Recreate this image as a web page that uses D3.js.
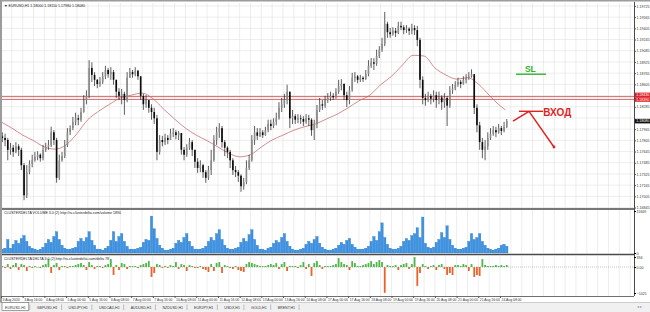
<!DOCTYPE html>
<html><head><meta charset="utf-8">
<script src="https://cdn.jsdelivr.net/npm/d3@7"></script>
<style>body{margin:0;background:#fff}svg{display:block;font-family:"Liberation Sans",Arial,sans-serif}</style>
</head><body><svg id="c" width="650" height="312"></svg>
<script>
// ---------- DATA ----------
const symbolTitle = "EURUSD,H1";
const barStepHours = 2;
const firstOpen = 1.1786;
const closes = [
1.1784,1.1781,1.1767,1.1770,1.1764,1.1772,1.1767,1.1745,1.1702,1.1735,
1.1747,1.1752,1.1757,1.1760,1.1755,1.1767,1.1771,1.1774,1.1792,1.1781,
1.1727,1.1752,1.1758,1.1774,1.1792,1.1798,1.1807,1.1812,1.1810,1.1821,
1.1838,1.1844,1.1884,1.1874,1.1867,1.1861,1.1864,1.1872,1.1881,1.1875,
1.1878,1.1867,1.1850,1.1844,1.1847,1.1838,1.1870,1.1878,1.1875,1.1880,
1.1872,1.1844,1.1832,1.1838,1.1827,1.1821,1.1812,1.1764,1.1781,1.1778,
1.1784,1.1781,1.1790,1.1792,1.1788,1.1791,1.1767,1.1760,1.1770,1.1778,
1.1767,1.1750,1.1741,1.1745,1.1735,1.1727,1.1738,1.1752,1.1781,1.1792,
1.1798,1.1778,1.1770,1.1764,1.1752,1.1738,1.1735,1.1730,1.1715,1.1721,
1.1741,1.1752,1.1781,1.1792,1.1787,1.1792,1.1788,1.1795,1.1804,1.1801,
1.1807,1.1812,1.1827,1.1832,1.1838,1.1850,1.1812,1.1815,1.1810,1.1812,
1.1811,1.1807,1.1812,1.1810,1.1795,1.1804,1.1824,1.1832,1.1830,1.1838,
1.1841,1.1844,1.1842,1.1850,1.1858,1.1861,1.1845,1.1838,1.1852,1.1870,
1.1872,1.1867,1.1870,1.1868,1.1875,1.1887,1.1892,1.1890,1.1901,1.1910,
1.1918,1.1947,1.1935,1.1932,1.1937,1.1934,1.1944,1.1942,1.1938,1.1940,
1.1937,1.1941,1.1938,1.1924,1.1867,1.1841,1.1838,1.1844,1.1840,1.1845,
1.1838,1.1842,1.1835,1.1841,1.1830,1.1852,1.1855,1.1860,1.1864,1.1861,
1.1867,1.1870,1.1872,1.1875,1.1827,1.1802,1.1778,1.1767,1.1772,1.1784,
1.1790,1.1795,1.1792,1.1798,1.1794,1.1800,1.1808];
const highs = [
1.1792,1.1790,1.1784,1.1777,1.1774,1.1778,1.1775,1.1770,1.1748,1.1745,
1.1752,1.1760,1.1764,1.1765,1.1762,1.1774,1.1777,1.1781,1.1800,1.1795,
1.1784,1.1760,1.1764,1.1781,1.1798,1.1802,1.1814,1.1820,1.1817,1.1827,
1.1845,1.1852,1.1895,1.1892,1.1878,1.1868,1.1871,1.1878,1.1887,1.1884,
1.1885,1.1881,1.1861,1.1855,1.1854,1.1850,1.1878,1.1884,1.1881,1.1885,
1.1881,1.1872,1.1847,1.1845,1.1838,1.1832,1.1827,1.1817,1.1788,1.1787,
1.1790,1.1788,1.1797,1.1798,1.1795,1.1794,1.1790,1.1771,1.1775,1.1784,
1.1781,1.1767,1.1755,1.1752,1.1747,1.1738,1.1744,1.1767,1.1788,1.1800,
1.1805,1.1801,1.1781,1.1772,1.1767,1.1755,1.1744,1.1738,1.1732,1.1727,
1.1752,1.1760,1.1788,1.1801,1.1798,1.1798,1.1795,1.1800,1.1810,1.1810,
1.1812,1.1820,1.1835,1.1841,1.1847,1.1860,1.1850,1.1824,1.1818,1.1818,
1.1817,1.1815,1.1818,1.1817,1.1812,1.1810,1.1831,1.1841,1.1838,1.1844,
1.1848,1.1850,1.1848,1.1855,1.1867,1.1868,1.1862,1.1850,1.1858,1.1877,
1.1878,1.1874,1.1874,1.1872,1.1881,1.1895,1.1898,1.1898,1.1910,1.1915,
1.1927,1.1964,1.1950,1.1941,1.1942,1.1941,1.1950,1.1950,1.1945,1.1945,
1.1942,1.1947,1.1945,1.1944,1.1927,1.1872,1.1847,1.1850,1.1847,1.1852,
1.1850,1.1850,1.1845,1.1848,1.1844,1.1858,1.1861,1.1865,1.1870,1.1867,
1.1872,1.1875,1.1878,1.1882,1.1875,1.1832,1.1807,1.1784,1.1781,1.1792,
1.1798,1.1801,1.1800,1.1804,1.1801,1.1807,1.1811];
const lows = [
1.1778,1.1772,1.1752,1.1760,1.1757,1.1762,1.1758,1.1738,1.1695,1.1698,
1.1732,1.1742,1.1750,1.1752,1.1750,1.1752,1.1764,1.1767,1.1771,1.1774,
1.1720,1.1724,1.1750,1.1755,1.1771,1.1788,1.1795,1.1802,1.1802,1.1807,
1.1820,1.1832,1.1841,1.1864,1.1858,1.1855,1.1857,1.1861,1.1868,1.1870,
1.1867,1.1860,1.1841,1.1838,1.1832,1.1817,1.1835,1.1871,1.1870,1.1872,
1.1867,1.1838,1.1824,1.1827,1.1820,1.1810,1.1804,1.1752,1.1760,1.1772,
1.1774,1.1775,1.1781,1.1785,1.1782,1.1781,1.1760,1.1752,1.1757,1.1767,
1.1758,1.1741,1.1734,1.1735,1.1727,1.1720,1.1724,1.1731,1.1750,1.1774,
1.1784,1.1770,1.1758,1.1755,1.1741,1.1731,1.1728,1.1721,1.1707,1.1710,
1.1718,1.1738,1.1750,1.1774,1.1781,1.1785,1.1784,1.1787,1.1792,1.1795,
1.1798,1.1802,1.1810,1.1821,1.1827,1.1832,1.1798,1.1804,1.1804,1.1805,
1.1804,1.1801,1.1804,1.1801,1.1787,1.1781,1.1798,1.1821,1.1824,1.1827,
1.1834,1.1837,1.1838,1.1840,1.1847,1.1852,1.1838,1.1828,1.1832,1.1850,
1.1864,1.1862,1.1864,1.1864,1.1867,1.1872,1.1884,1.1881,1.1887,1.1898,
1.1907,1.1915,1.1927,1.1927,1.1930,1.1928,1.1932,1.1938,1.1932,1.1934,
1.1931,1.1932,1.1931,1.1915,1.1855,1.1832,1.1830,1.1835,1.1832,1.1835,
1.1827,1.1832,1.1824,1.1827,1.1801,1.1827,1.1847,1.1852,1.1857,1.1855,
1.1860,1.1862,1.1867,1.1870,1.1818,1.1792,1.1767,1.1755,1.1752,1.1767,
1.1781,1.1787,1.1785,1.1790,1.1788,1.1792,1.1798];
const volumes = [
1080,1350,3780,1350,2430,3510,2700,4050,4860,3240,1890,1350,
1080,810,1080,1620,2700,3780,2970,4590,5940,3780,2160,1350,
1080,1080,1350,1620,3240,4050,3240,4320,5940,3510,2160,1080,
1080,810,1350,1890,3510,5940,3240,4590,5400,3240,1890,1080,
1080,1080,1350,1620,2970,3780,3510,10260,6750,4050,2160,1350,
810,810,1080,1350,2700,3510,2970,4320,5400,3240,1890,1080,
1080,1080,1350,1890,3240,4320,3510,5400,6480,3780,2160,1350,
1080,1080,1350,1620,2970,4050,3240,5130,6480,3780,2160,1080,
1080,810,1350,1620,2700,3510,2970,4320,5400,3240,1890,1080,
810,810,1080,1350,2430,3240,2700,3780,4590,2700,1620,1080,
810,810,1080,1350,2160,2970,2430,3510,4050,2430,1620,1080,
1080,1080,1350,1890,3240,4590,3510,5940,8370,4320,2430,1350,
1080,1080,1350,1890,3240,4050,3510,4860,5400,7020,4320,9990,
2700,1620,1350,1620,2970,3780,5670,4320,7560,3780,2160,1350,
1080,1080,1350,1620,3240,5400,3780,4320,5400,3240,2160,1350,
1080,810,1080,1350,2160,2430,1890];
const deltas = [
39,-39,117,-78,78,156,-117,117,78,-156,39,-39,
39,0,-39,78,117,312,-234,78,156,-117,39,39,
-39,39,39,78,117,156,78,-117,195,78,-78,39,
39,-39,78,117,312,-312,78,-117,156,117,-78,39,
39,39,-39,78,117,156,234,-390,-234,117,78,-39,
39,-39,78,39,195,-78,117,78,-156,78,39,-39,
-39,39,-78,-117,-195,117,-156,156,195,-234,78,39,
-39,-78,39,-117,-156,-195,117,195,156,117,78,39,
39,39,78,117,78,156,-78,117,195,-156,39,39,
39,-39,78,195,-78,117,-351,156,234,78,-78,39,
39,39,78,117,351,195,117,78,-117,234,156,39,
39,78,117,156,234,117,195,273,195,-1014,78,39,
39,78,-117,78,117,156,-78,117,390,-741,-234,117,
39,-78,39,78,-117,78,117,-78,-312,-234,-312,78,
78,39,117,78,-156,117,-390,-312,-351,312,78,39,
39,39,78,39,78,39,78];
const maHours = [0,8,16,24,32,40,48,56,64,72,80,88,96,104,112,120,128,136,144,152,160,168,176,184,192,200,208,216,224,232,240,248,256,264,272,280,288,296,304,312,320,328,336,344,352,360,368,372];
const maValues = [1.1807,1.1798,1.1788,1.1780,1.1771,1.1768,1.1774,1.1790,1.1810,1.1822,
1.1832,1.1841,1.1845,1.1848,1.1840,1.1825,1.1811,1.1798,1.1788,1.1780,
1.1771,1.1762,1.1757,1.1760,1.1771,1.1781,1.1788,1.1795,1.1800,1.1804,
1.1811,1.1818,1.1827,1.1837,1.1845,1.1860,1.1872,1.1888,1.1902,1.1901,
1.1884,1.1874,1.1868,1.1870,1.1861,1.1845,1.1830,1.1824];
const priceTicks = [1.19725,1.19565,1.19405,1.19245,1.19085,1.18925,1.18765,1.18605,1.18445,1.18285,1.18125,1.17965,1.17805,1.17645,1.17485,1.17325,1.17165,1.17005,1.16845];
const levelPrices = [1.1843, 1.1839];
const timeLabelHours = [0,16,32,48,64,80,96,112,128,144,160,176,192,208,224,240,256,272,288,304,320,336,352,368];
const timeLabels = ["3 Aug 2020","3 Aug 16:00","4 Aug 08:00","5 Aug 00:00","5 Aug 16:00","6 Aug 08:00","7 Aug 00:00","7 Aug 16:00","10 Aug 08:00","11 Aug 00:00","11 Aug 16:00","12 Aug 08:00","13 Aug 00:00","13 Aug 16:00","14 Aug 08:00","17 Aug 00:00","17 Aug 16:00","18 Aug 08:00","19 Aug 00:00","19 Aug 16:00","20 Aug 08:00","21 Aug 00:00","21 Aug 16:00","24 Aug 08:00"];
const volumeMax = 11669;
const deltaTicks = [394, 0, -1021];
const slLevel = {from: 379.8, to: 401.9, price: 1.1875, textHour: 386.4, textPrice: 1.1878};
const entryRise = [[377.6, 1.1808], [389.4, 1.1822]];
const entryShelf = [[382.0, 1.1822], [399.7, 1.1822]];
const entryDrop = [[389.4, 1.1822], [407.8, 1.1771]];
const entryText = {hour: 399.9, price: 1.1816, label: "ВХОД"};
const tabs = ["EURUSD,H1","GBPUSD,H1","USDJPY,H1","USDCAD,H1","AUDUSD,H1","NZDUSD,H1","EURJPY,H1","USDX,H1","GOLD,H1","BRENT,H1"];

// ---------- SCALES ----------
const W = 650, H = 312, RIGHT = 634;
const x = d3.scaleLinear().domain([0, 368]).range([1, 500]);
const y = d3.scaleLinear().domain([1.1681, 1.1981]).range([210, 0]);
const yv = d3.scaleLinear().domain([0, volumeMax]).range([253, 211]);
const yd = d3.scaleLinear().domain([-1021, 394]).range([293, 257]);
const fs = 3.6;

const svg = d3.select("#c");
svg.append("rect").attr("width", W).attr("height", H).attr("fill", "#fff");
const defs = svg.append("defs");
function clip(id, x0, y0, w, h) {
  defs.append("clipPath").attr("id", id).append("rect").attr("x", x0).attr("y", y0).attr("width", w).attr("height", h);
}
clip("cm", 2, 3, RIGHT - 2, 205);
clip("cv", 2, 210, RIGHT - 2, 44);
clip("cd", 2, 256, RIGHT - 2, 40);

// grid
const gridHours = d3.range(0, 467, 8);
const grid = svg.append("g").attr("stroke", "#e0e0e0").attr("stroke-width", 0.6);
[[3, 208], [210, 253], [256, 296]].forEach(([a, b]) => {
  grid.selectAll(null).data(gridHours).join("line")
    .attr("x1", d => x(d)).attr("x2", d => x(d)).attr("y1", a).attr("y2", b);
});
grid.selectAll(null).data(priceTicks).join("line")
  .attr("x1", 2).attr("x2", RIGHT).attr("y1", d => y(d)).attr("y2", d => y(d));

// bars
const bars = closes.map((c, i) => {
  const o = i === 0 ? firstOpen : closes[i - 1];
  return {t: i * barStepHours + barStepHours / 2, o, c,
    h: Math.max(highs[i], o, c), l: Math.min(lows[i], o, c), v: volumes[i], d: deltas[i]};
});
const step = x(barStepHours) - x(0);
const bw = step * 0.6;

// moving average
const gm = svg.append("g").attr("clip-path", "url(#cm)");
gm.append("path").datum(maHours.map((h, i) => [h, maValues[i]]))
  .attr("fill", "none").attr("stroke", "#c87070").attr("stroke-width", 0.8)
  .attr("d", d3.line().x(d => x(d[0])).y(d => y(d[1])).curve(d3.curveMonotoneX));

// levels
gm.selectAll(null).data(levelPrices).join("line")
  .attr("x1", 2).attr("x2", RIGHT).attr("y1", d => y(d)).attr("y2", d => y(d))
  .attr("stroke", "#cf5a5a").attr("stroke-width", 0.9);

// candles
const gc = gm.append("g");
gc.selectAll("line").data(bars).join("line")
  .attr("x1", d => x(d.t)).attr("x2", d => x(d.t))
  .attr("y1", d => y(d.h)).attr("y2", d => y(d.l))
  .attr("stroke", "#1a1a1a").attr("stroke-width", 0.7);
gc.selectAll("rect").data(bars).join("rect")
  .attr("x", d => x(d.t) - bw / 2).attr("width", bw)
  .attr("y", d => y(Math.max(d.o, d.c)))
  .attr("height", d => Math.max(0.8, Math.abs(y(d.o) - y(d.c))))
  .attr("fill", d => d.c >= d.o ? "#8c8c8c" : "#0a0a0a");

// annotations
const red = "#e01f1f", green = "#2fb52f";
const ln = d3.line().x(d => x(d[0])).y(d => y(d[1]));
gm.append("line").attr("x1", x(slLevel.from)).attr("x2", x(slLevel.to))
  .attr("y1", y(slLevel.price)).attr("y2", y(slLevel.price)).attr("stroke", green).attr("stroke-width", 1.4);
gm.append("text").attr("x", x(slLevel.textHour)).attr("y", y(slLevel.textPrice))
  .attr("fill", green).attr("font-weight", "bold").attr("font-size", 8.5).text("SL");
[entryRise, entryShelf, entryDrop].forEach(p => gm.append("path").datum(p)
  .attr("d", ln).attr("fill", "none").attr("stroke", red).attr("stroke-width", 1.4));
const endPt = entryDrop[1];
gm.append("circle").attr("cx", x(endPt[0])).attr("cy", y(endPt[1])).attr("r", 1.4).attr("fill", red);
gm.append("text").attr("x", x(entryText.hour)).attr("y", y(entryText.price))
  .attr("fill", red).attr("font-weight", "bold").attr("font-size", 10).text(entryText.label);

// volume
const gv = svg.append("g").attr("clip-path", "url(#cv)");
gv.selectAll("rect").data(bars).join("rect")
  .attr("x", d => x(d.t) - step * 0.45).attr("width", step * 0.9)
  .attr("y", d => yv(d.v)).attr("height", d => yv(0) - yv(d.v))
  .attr("fill", "#3f93e3").attr("stroke", "#2a78c8").attr("stroke-width", 0.3);

// delta
const gd = svg.append("g").attr("clip-path", "url(#cd)");
gd.append("line").attr("x1", 2).attr("x2", RIGHT).attr("y1", yd(0)).attr("y2", yd(0))
  .attr("stroke", "#9a9a9a").attr("stroke-width", 0.6).attr("stroke-dasharray", "1,1");
gd.selectAll("rect").data(bars).join("rect")
  .attr("x", d => x(d.t) - 0.9).attr("width", 1.8)
  .attr("y", d => yd(Math.max(0, d.d))).attr("height", d => Math.max(0.5, Math.abs(yd(d.d) - yd(0))))
  .attr("fill", d => d.d >= 0 ? "#4cb845" : "#e8622a");

// frames
const fr = svg.append("g").attr("stroke", "#4a4a4a").attr("fill", "none");
fr.append("line").attr("x1", RIGHT + 0.5).attr("x2", RIGHT + 0.5).attr("y1", 2).attr("y2", 296);
fr.append("line").attr("x1", 2).attr("x2", RIGHT).attr("y1", 209).attr("y2", 209).attr("stroke-width", 1.4);
fr.append("line").attr("x1", 2).attr("x2", RIGHT).attr("y1", 254.5).attr("y2", 254.5).attr("stroke-width", 1.4);
fr.append("line").attr("x1", 2).attr("x2", RIGHT).attr("y1", 296.5).attr("y2", 296.5).attr("stroke-width", 0.8);
svg.append("rect").attr("x", 0).attr("y", 0).attr("width", 2).attr("height", 303).attr("fill", "#9c9c9c");
svg.append("rect").attr("x", 0).attr("y", 0).attr("width", W).attr("height", 1.5).attr("fill", "#9c9c9c");

// tags (levels & current price)
const lastClose = closes[closes.length - 1];
const tagDefs = [
  {v: levelPrices[0], top: y(levelPrices[0]) - 4, bg: "#e0222a"},
  {v: levelPrices[1], top: y(levelPrices[0]) + 0.6, bg: "#e0222a"},
  {v: lastClose, top: y(lastClose) - 2.3, bg: "#111"}
];
const tagH = 4.6;
const covered = v => tagDefs.some(t => y(v) > t.top - 2 && y(v) < t.top + tagH + 2);

// price axis
const pa = svg.append("g").attr("transform", `translate(${RIGHT},0)`)
  .call(d3.axisRight(y).tickValues(priceTicks.filter(v => !covered(v))).tickSize(2).tickPadding(0.6).tickFormat(d3.format(".5f")));
pa.select(".domain").remove();
pa.selectAll("text").attr("font-size", fs).attr("fill", "#333").attr("font-family", "Liberation Sans, Arial, sans-serif");
pa.selectAll("line").attr("stroke", "#555");

tagDefs.forEach(t => {
  svg.append("rect").attr("x", RIGHT + 1).attr("y", t.top).attr("width", W - RIGHT - 1).attr("height", tagH).attr("fill", t.bg);
  svg.append("text").attr("x", RIGHT + 2.2).attr("y", t.top + 3.5).attr("font-size", fs).attr("fill", "#fff").text(d3.format(".5f")(t.v));
});

// volume/delta axes
const va = svg.append("g").attr("transform", `translate(${RIGHT},0)`)
  .call(d3.axisRight(yv).tickValues([volumeMax, 0]).tickSize(2).tickPadding(0.6).tickFormat(d3.format("d")));
va.select(".domain").remove();
va.selectAll("text").attr("font-size", fs).attr("fill", "#333");
const da = svg.append("g").attr("transform", `translate(${RIGHT},0)`)
  .call(d3.axisRight(yd).tickValues(deltaTicks).tickSize(2).tickPadding(0.6).tickFormat(d => d === 0 ? "0.00" : d3.format("d")(d)));
da.select(".domain").remove();
da.selectAll("text").attr("font-size", fs).attr("fill", "#333");

// time axis
const ta = svg.append("g").attr("transform", "translate(0,296)")
  .call(d3.axisBottom(x).tickValues(timeLabelHours).tickSize(2).tickFormat((d, i) => timeLabels[i]));
ta.select(".domain").remove();
ta.selectAll("line").attr("stroke", "#555");
ta.selectAll("text").attr("font-size", 3.4).attr("fill", "#333").attr("text-anchor", "start")
  .attr("x", 1).attr("y", 2.3).attr("dy", "0.75em");

// titles
const last = bars[bars.length - 1];
svg.append("text").attr("x", 4).attr("y", 6.5).attr("font-size", fs).attr("fill", "#222")
  .text(`▼ ${symbolTitle}  ${d3.format(".5f")(last.o)} ${d3.format(".5f")(last.h)} ${d3.format(".5f")(last.l)} ${d3.format(".5f")(last.c)}`);
svg.append("text").attr("x", 4).attr("y", 214).attr("font-size", fs).attr("fill", "#222")
  .text(`CLUSTERDELTA VOLUME 3.0 (2) http://ru.clusterdelta.com/volume ${last.v}`);
svg.append("text").attr("x", 4).attr("y", 260).attr("font-size", fs).attr("fill", "#222")
  .text(`CLUSTERDELTA DELTA 3.0 (2) http://ru.clusterdelta.com/delta ${last.d}`);

// tabs
svg.append("rect").attr("x", 0).attr("y", 302.5).attr("width", W).attr("height", 10).attr("fill", "#f0f0f0");
svg.append("line").attr("x1", 0).attr("x2", W).attr("y1", 302.5).attr("y2", 302.5).attr("stroke", "#b0b0b0").attr("stroke-width", 0.6);
let tx = 2;
tabs.forEach((t, i) => {
  const g = svg.append("g");
  const txt = g.append("text").attr("x", tx + 3).attr("y", 308.8).attr("font-size", fs).attr("fill", "#333").text(t);
  const w = txt.node().getComputedTextLength();
  if (i === 0) {
    g.insert("rect", "text").attr("x", tx).attr("y", 302.5).attr("width", w + 6).attr("height", 8)
      .attr("fill", "#fff").attr("stroke", "#666").attr("stroke-width", 0.6);
  }
  svg.append("line").attr("x1", tx + w + 7).attr("x2", tx + w + 7).attr("y1", 304.5).attr("y2", 310)
    .attr("stroke", "#888").attr("stroke-width", 0.5);
  tx += w + 11;
});
svg.append("text").attr("x", 637).attr("y", 308).attr("font-size", fs).attr("fill", "#999").text("◂ ▸");
</script></body></html>
